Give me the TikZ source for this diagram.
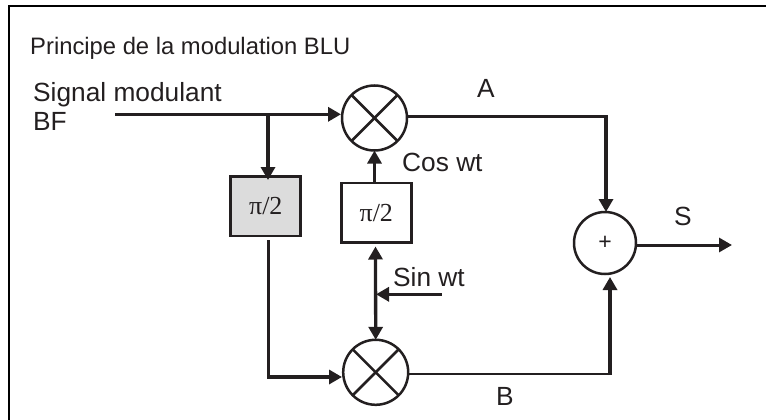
\documentclass[tikz,border=0pt]{standalone}
\usepackage{fontspec}
\setmainfont{Liberation Sans}
\newfontfamily\serifpi{Liberation Serif}
\usetikzlibrary{arrows.meta}
\usetikzlibrary{positioning}
\usetikzlibrary{calc}
\definecolor{ink}{HTML}{231F20}
\definecolor{boxgray}{HTML}{DCDCDC}
\tikzset{
	mixer/.style = {draw=ink,circle,line width=2.5pt,minimum size=65pt,inner sep=0pt,outer sep=0pt,fill=white},
	adder/.style = {draw=ink,circle,line width=2.5pt,minimum size=62pt,inner sep=0pt,outer sep=0pt,fill=white,text=ink,font=\fontsize{23}{23}\selectfont},
	phasebox/.style = {draw=ink,line width=2.7pt,minimum width=70pt,minimum height=59.5pt,inner sep=0pt,text=ink,font=\serifpi\fontsize{26}{26}\selectfont},
	label/.style = {inner sep=0pt,text=ink,font=\fontsize{26.3}{28}\selectfont},
	wire/.style = {draw=ink,line width=3.3pt},
	thin wire/.style = {draw=ink,line width=2.5pt},
	tip/.style = {-{Triangle[length=13pt,width=14pt]}}
}
\begin{document}
\begin{tikzpicture}
		[x=1pt,y=-1pt,
		> = latex]
		\useasboundingbox (0,0) rectangle (766,420);
		% frame
		\draw[black,line width=2.2pt] (9,421) -- (9,6) -- (767,6);
		\node[label,anchor=base west,font=\fontsize{23.8}{26}\selectfont] (title) at (30,55) {Principe de la modulation BLU};
		\node[label,anchor=base west] (signal) at (33,101) {Signal modulant};
		\node[label,anchor=base west] (bf) at (33,130.7) {BF};
		\coordinate (in) at (115,114.3);

		% blocks
		\node[mixer] (mixA) at (374.5,118) {};
		\node[mixer] (mixB) at (375.7,372.3) {};
		\node[adder] (sum) at (605,243) {+};
		\node[phasebox,fill=boxgray] (shiftA) at (265.8,206.3) {π/2};
		\node[phasebox,fill=white] (shiftB) at (376.3,212.8) {π/2};
		\foreach \m in {mixA,mixB} {
			\draw[ink,line width=2.5pt] (\m.45) -- (\m.225);
			\draw[ink,line width=2.5pt] (\m.135) -- (\m.315);
		}

		% connectors
		\coordinate (branch) at (268,114.3);
		\coordinate (branchend) at (268,180);
		\coordinate (lowstart) at (268.3,240);
		\coordinate (lowend) at (342,377);
		\coordinate (dualtop) at (375.5,246.5);
		\coordinate (sinin) at (441.7,294.3);
		\coordinate (sinjoin) at (376,294.3);
		\coordinate (out) at (732,245);
		\draw[wire,tip] (in) -- (341,114.3);
		\draw[wire,tip] (branch) -- (branchend);
		\draw[wire,tip] (lowstart) |- (lowend);
		\draw[thin wire,line width=3pt,tip] (mixA.south |- shiftB.north) -- (mixA.south);
		\draw[wire,{Triangle[length=13pt,width=14pt]}-{Triangle[length=13pt,width=14pt]}] (dualtop) -- (mixB.north);
		\draw[wire,tip] (sinin) -- (sinjoin);
		\draw[thin wire] (mixA.east |- 0,116.5) -- (606,116.5) coordinate (cornerA);
		\draw[wire,tip] (cornerA) ++(0,-1.2) -- (sum.north -| cornerA);
		\draw[thin wire] (mixB.east |- 0,374) -- (611.5,374) coordinate (cornerB);
		\draw[wire,line width=4pt,tip] (610,375.2) -- (610,277);
		\draw[wire,line width=3pt,tip] (sum.east |- out) -- (out);

		% labels
		\node[label,anchor=base] (A) at (486,97.5) {A};
		\node[label,anchor=base west] (cos) at (402,171.7) {Cos wt};
		\node[label,anchor=base] (S) at (683,225.7) {S};
		\node[label,anchor=base west] (sin) at (393,286.7) {Sin wt};
		\node[label,anchor=base] (B) at (505,405) {B};
	\end{tikzpicture}
\end{document}
